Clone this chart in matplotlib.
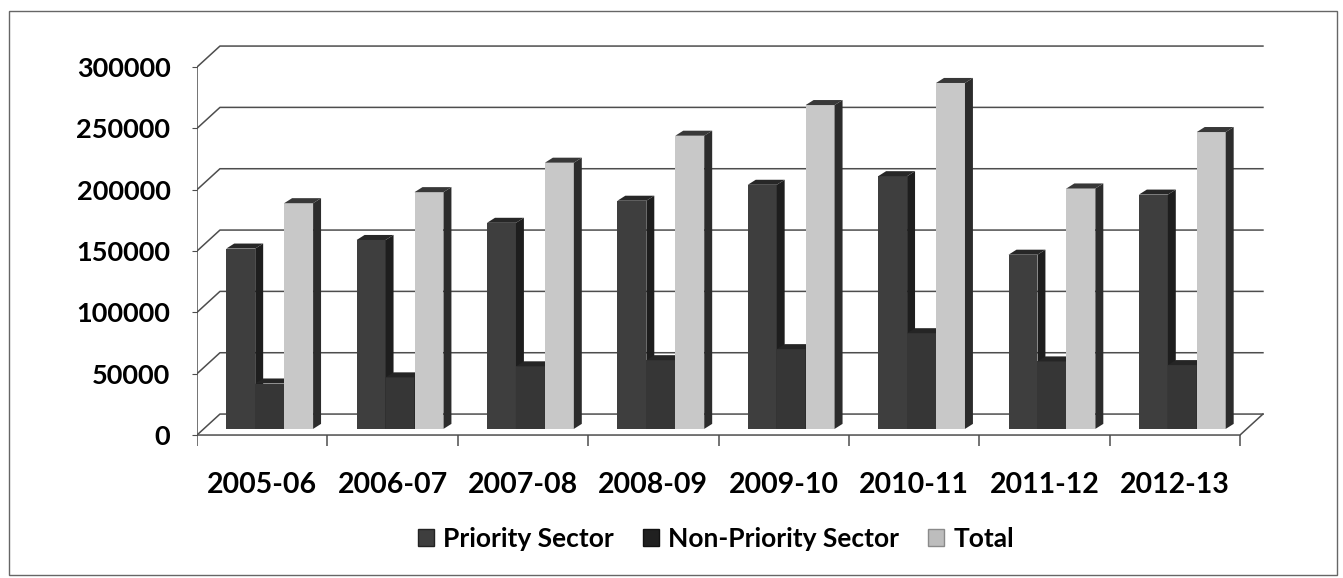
import matplotlib
matplotlib.use("Agg")
import matplotlib.pyplot as plt
from matplotlib.patches import Patch, Polygon, Rectangle

plt.rcParams["font.family"] = ["Lato", "DejaVu Sans"]
plt.rcParams["font.weight"] = "bold"

YEARS = ["2005-06", "2006-07", "2007-08", "2008-09",
         "2009-10", "2010-11", "2011-12", "2012-13"]
PRIORITY = [147000, 154000, 168000, 186000, 199000, 206000, 142000, 191000]
NON_PRIORITY = [37000, 42000, 51000, 56000, 65000, 78000, 55000, 52000]
TOTAL = [184000, 193000, 217000, 239000, 264000, 282000, 196000, 242000]
SERIES_NAMES = ["Priority Sector", "Non-Priority Sector", "Total"]
Y_TICKS = [0, 50000, 100000, 150000, 200000, 250000, 300000]

FRONT_COLORS = ["#3e3e3e", "#363636", "#c8c8c8"]
SIDE_COLORS = ["#1e1e1e", "#1c1c1c", "#2c2c2c"]
TOP_COLORS = ["#272727", "#252525", "#383838"]
LINE_COLOR = "#4d4d4d"

# fake 3-D geometry, in data units
BAR_WIDTH = 0.222
BAR_SHIFT = 0.0575
BAR_BASE = 5000
SIDE_DX = 0.061
SIDE_DY = 4100
WALL_DX = 0.176
WALL_DY = 17100

W, H = 1343, 578


def draw_box_bar(ax, x_left, height, j, zorder):
    ax.bar(x_left, height, width=BAR_WIDTH, bottom=BAR_BASE, align="edge",
           color=FRONT_COLORS[j], edgecolor="none", zorder=zorder)
    x_right = x_left + BAR_WIDTH
    y_top = BAR_BASE + height
    side = [(x_right, BAR_BASE), (x_right, y_top),
            (x_right + SIDE_DX, y_top + SIDE_DY),
            (x_right + SIDE_DX, BAR_BASE + SIDE_DY)]
    top = [(x_left, y_top), (x_right, y_top),
           (x_right + SIDE_DX, y_top + SIDE_DY),
           (x_left + SIDE_DX, y_top + SIDE_DY)]
    ax.add_patch(Polygon(side, closed=True, facecolor=SIDE_COLORS[j],
                         edgecolor="none", zorder=zorder))
    ax.add_patch(Polygon(top, closed=True, facecolor=TOP_COLORS[j],
                         edgecolor="none", zorder=zorder))


fig = plt.figure(figsize=(W / 100, H / 100), dpi=100)
ax = fig.add_axes([197 / W, 1 - 447.3 / H, 1075.6 / W, 404.8 / H])
n = len(YEARS)
ax.set_xlim(-0.5, n - 0.25)
ax.set_ylim(-10000, 320000)
for s in ax.spines.values():
    s.set_visible(False)

# back wall gridlines with the diagonal tick connectors
for v in Y_TICKS:
    ax.plot([-0.5, -0.5 + WALL_DX, n - 0.5 + WALL_DX],
            [v, v + WALL_DY, v + WALL_DY],
            color=LINE_COLOR, lw=1.1, zorder=1)

# front value axis and floor edge
ax.plot([-0.5, -0.5], [0, Y_TICKS[-1]], color=LINE_COLOR, lw=1.1, zorder=2)
ax.plot([-0.5, n - 0.5, n - 0.5 + WALL_DX], [0, 0, WALL_DY],
        color=LINE_COLOR, lw=1.1, zorder=2)
ax.vlines([i - 0.5 for i in range(n + 1)], -9000, 0,
          color=LINE_COLOR, lw=1.1, zorder=2)

series = [PRIORITY, NON_PRIORITY, TOTAL]
for i in range(n):
    for j, values in enumerate(series):
        x_left = i + (j - 1) * BAR_WIDTH + BAR_SHIFT - BAR_WIDTH / 2
        draw_box_bar(ax, x_left, values[i], j, zorder=3 + j)

ax.set_yticks(Y_TICKS)
ax.set_yticklabels([str(v) for v in Y_TICKS], fontsize=19.5)
ax.tick_params(axis="y", length=3.6, width=0.8, color=LINE_COLOR, pad=15.5)
ax.set_xticks(range(n))
ax.set_xticklabels(YEARS, fontsize=20.5)
ax.tick_params(axis="x", length=0, pad=18)

handles = [Patch(facecolor=FRONT_COLORS[0], edgecolor="#222222"),
           Patch(facecolor="#202020", edgecolor="#111111"),
           Patch(facecolor="#bdbdbd", edgecolor="#8a8a8a")]
fig.legend(handles, SERIES_NAMES, loc="center",
           bbox_to_anchor=(716 / W, 1 - 539 / H), ncol=3, frameon=False,
           fontsize=19, handlelength=0.6, handleheight=0.6,
           handletextpad=0.35, columnspacing=1.1)

fig.add_artist(Rectangle((9 / W, 1 - 575 / H), 1328 / W, 564 / H,
                         transform=fig.transFigure, fill=False,
                         edgecolor="#666666", lw=1.0))

fig.savefig("out.png", dpi=100)
